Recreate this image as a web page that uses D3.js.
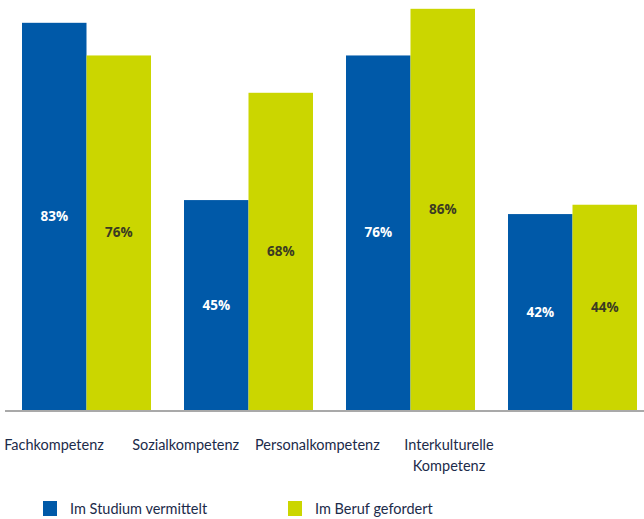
<!DOCTYPE html>
<html>
<head>
<meta charset="utf-8">
<script src="https://cdn.jsdelivr.net/npm/d3@7"></script>
<style>
  body { margin: 0; background: #fff; }
  svg { display: block; font-family: "Open Sans", "Noto Sans", sans-serif; }
</style>
</head>
<body>
<svg width="644" height="519"></svg>
<script>
// data
var categories = ["Fachkompetenz", "Sozialkompetenz", "Personalkompetenz", "Interkulturelle Kompetenz"];
var categoryLines = [["Fachkompetenz"], ["Sozialkompetenz"], ["Personalkompetenz"], ["Interkulturelle", "Kompetenz"]];
var seriesNames = ["Im Studium vermittelt", "Im Beruf gefordert"];
var studium = [83, 45, 76, 42];
var beruf = [76, 68, 86, 44];

var colors = ["#0059a8", "#cbd600"];
var labelColors = ["#ffffff", "#3b3b22"];

var svg = d3.select("svg"),
    baseline = 410;

// bar groups: step 162, group width 129
var x0 = d3.scaleBand()
    .domain(categories)
    .range([22, 637])
    .paddingInner(33 / 162)
    .paddingOuter(0);

var x1 = d3.scaleBand()
    .domain([0, 1])
    .range([0, x0.bandwidth()]);

var y = d3.scaleLinear()
    .domain([0, 100])
    .range([baseline, baseline - 466.5]);

// category labels sit on their own spacing
var xl = d3.scalePoint()
    .domain(categories)
    .range([54, 449]);

var rows = categories.map(function(c, i) {
  return {cat: c, values: [studium[i], beruf[i]]};
});

var groups = svg.append("g")
  .selectAll("g")
  .data(rows)
  .enter().append("g")
    .attr("transform", function(d) { return "translate(" + x0(d.cat) + ",0)"; });

var bars = groups.selectAll("g")
  .data(function(d) { return d.values.map(function(v, k) { return {k: k, v: v}; }); })
  .enter().append("g");

bars.append("rect")
    .attr("x", function(d) { return x1(d.k); })
    .attr("y", function(d) { return y(d.v); })
    .attr("width", x1.bandwidth())
    .attr("height", function(d) { return baseline - y(d.v); })
    .attr("fill", function(d) { return colors[d.k]; });

bars.append("text")
    .attr("x", function(d) { return x1(d.k) + x1.bandwidth() / 2; })
    .attr("y", function(d) { return (y(d.v) + baseline) / 2; })
    .attr("dy", "0.35em")
    .attr("text-anchor", "middle")
    .attr("font-size", 13.5)
    .attr("font-weight", "bold")
    .attr("fill", function(d) { return labelColors[d.k]; })
    .text(function(d) { return d.v + "%"; });

// baseline
svg.append("line")
    .attr("x1", 5)
    .attr("x2", 644)
    .attr("y1", baseline + 1)
    .attr("y2", baseline + 1)
    .attr("stroke", "#8c8c8c")
    .attr("stroke-width", 1.5);

// category labels
var catText = svg.append("g")
  .selectAll("text")
  .data(categories)
  .enter().append("text")
    .attr("x", function(d) { return xl(d); })
    .attr("y", 445)
    .attr("text-anchor", "middle")
    .attr("font-family", "Lato, sans-serif")
    .attr("font-size", 14.5)
    .attr("fill", "#1c2b4a");

catText.selectAll("tspan")
  .data(function(d, i) { return categoryLines[i]; })
  .enter().append("tspan")
    .attr("x", function() { return xl(d3.select(this.parentNode).datum()); })
    .attr("dy", function(d, i) { return i === 0 ? "0.35em" : 21; })
    .text(function(d) { return d; });

// legend
var legend = svg.append("g")
  .selectAll("g")
  .data(seriesNames)
  .enter().append("g")
    .attr("transform", function(d, i) { return "translate(" + [43, 288][i] + ",501)"; });

legend.append("rect")
    .attr("width", 14)
    .attr("height", 15)
    .attr("fill", function(d, i) { return colors[i]; });

legend.append("text")
    .attr("x", 27)
    .attr("y", 7.5)
    .attr("dy", "0.35em")
    .attr("font-family", "Lato, sans-serif")
    .attr("font-size", 14.5)
    .attr("fill", "#1c2b4a")
    .text(function(d) { return d; });
</script>
</body>
</html>
